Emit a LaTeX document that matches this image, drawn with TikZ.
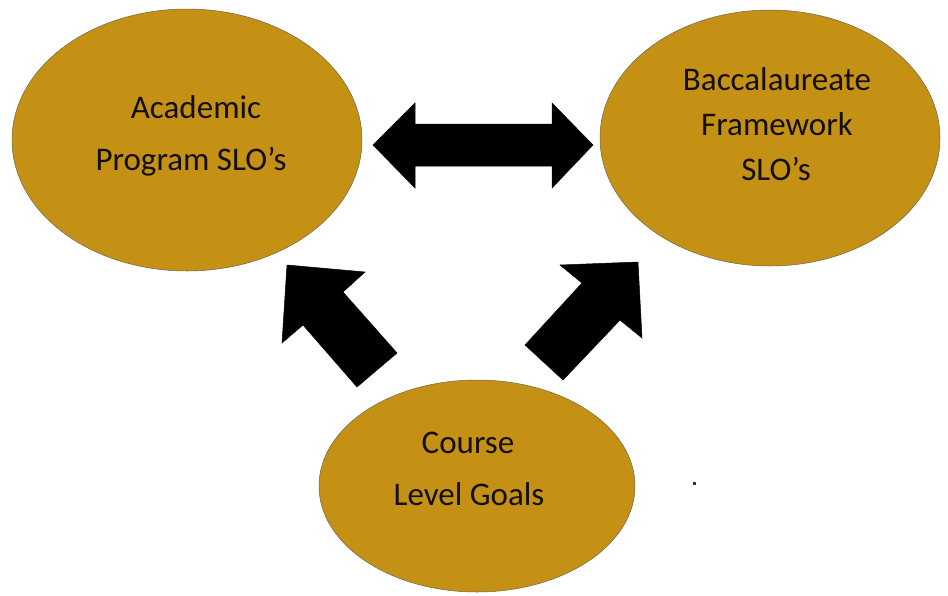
\documentclass[tikz,border=0pt]{standalone}
\usepackage{fontspec}
\setmainfont{Carlito}
\usetikzlibrary{shapes.geometric}
\definecolor{gold}{RGB}{196,145,20}
\definecolor{rim}{RGB}{110,100,80}
\definecolor{ink}{RGB}{20,15,5}
\tikzset{
  oval/.style={ellipse, fill=gold, draw=rim, line width=0.5pt, inner sep=0pt},
  word/.style={anchor=base, inner sep=0pt, text=ink, font=\fontsize{33}{40}\selectfont},
  blockarrow/.style={fill=black, draw=black, line width=0.5pt, line join=miter}
}
\begin{document}
\begin{tikzpicture}[x=1pt,y=-1pt]
\useasboundingbox (0,0) rectangle (948,595);
\node[oval, minimum width=350pt, minimum height=262pt] (acad) at (187,140) {};
\node[oval, minimum width=340pt, minimum height=256pt] (bacc) at (770,138) {};
\node[oval, minimum width=316pt, minimum height=212pt] (course) at (477,486) {};

\node[word] (t1) at (196,118) {Academic};
\node[word] (t2) at (191,170) {Program SLO’s};
\node[word] (t3) at (777,90) {Baccalaureate};
\node[word] (t4) at (777,135) {Framework};
\node[word] (t5) at (776,180) {SLO’s};
\node[word] (t6) at (468,453) {Course};
\node[word] (t7) at (469,505) {Level Goals};

% double arrow between top ovals
\draw[blockarrow] (373,145) -- (415,103) -- (415,124) -- (552,124) -- (552,103)
  -- (593,145) -- (552,188) -- (552,166) -- (415,166) -- (415,188) -- cycle;
% arrow to Academic
\draw[blockarrow] (287,265) -- (365,272) -- (343,292) -- (397,353) -- (357,387)
  -- (303,325) -- (282,343) -- cycle;
% arrow to Baccalaureate
\draw[blockarrow] (638,262) -- (642,338) -- (620,320) -- (563,380) -- (525,345)
  -- (582,283) -- (560,265) -- cycle;

\fill[black!80] (692.5,481.5) rectangle (695.5,484.5);
\end{tikzpicture}
\end{document}
